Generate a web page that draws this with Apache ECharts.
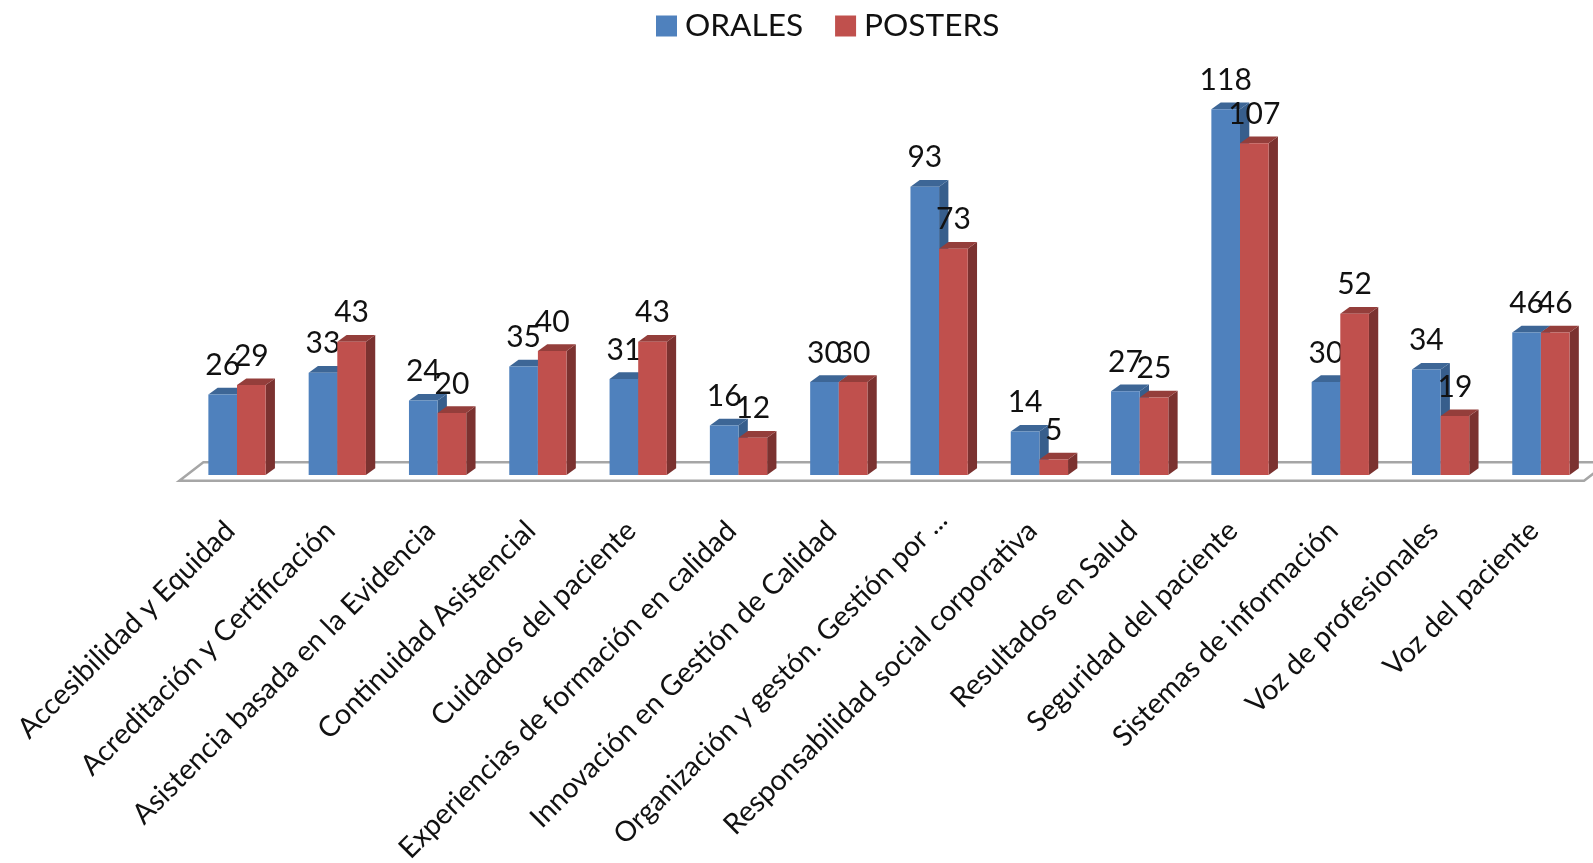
<!DOCTYPE html>
<html><head><meta charset="utf-8">
<style>html,body{margin:0;padding:0;background:#fff}#c{width:1593px;height:863px}</style>
<script src="https://cdn.jsdelivr.net/npm/echarts@6/dist/echarts.min.js"></script>
</head><body><div id="c"></div>
<script>
const categories = ["Accesibilidad y Equidad","Acreditación y Certificación","Asistencia basada en la Evidencia","Continuidad Asistencial","Cuidados del paciente","Experiencias de formación en calidad","Innovación en Gestión de Calidad","Organización y gestón. Gestión por ...","Responsabilidad social corporativa","Resultados en Salud","Seguridad del paciente","Sistemas de información","Voz de profesionales","Voz del paciente"];
const orales = [26,33,24,35,31,16,30,93,14,27,118,30,34,46];
const posters = [29,43,20,40,43,12,30,73,5,25,107,52,19,46];

const FONT = 'Lato, Carlito, Calibri, sans-serif';
const DX = 9.3, DY = 6.7, BAR = 0.2855;

function bar3d(side, front, top, dark) {
  return function (params, api) {
    const i = api.value(0), v = api.value(1);
    const band = api.size([1, 0])[0], w = band * BAR;
    const c = api.coord([i, v]), b = api.coord([i, 0]);
    const x0 = c[0] + (side < 0 ? -w : 0), x1 = x0 + w, yt = c[1], yb = b[1];
    return { type: 'group', children: [
      { type: 'polygon', shape: { points: [[x1, yt], [x1 + DX, yt - DY], [x1 + DX, yb - DY], [x1, yb]] }, style: { fill: dark } },
      { type: 'polygon', shape: { points: [[x0, yt], [x0 + DX, yt - DY], [x1 + DX, yt - DY], [x1, yt]] }, style: { fill: top } },
      { type: 'rect', shape: { x: x0, y: yt, width: w, height: yb - yt }, style: { fill: front } },
      { type: 'text', z2: 50, style: { x: (x0 + x1) / 2, y: yt - 29, text: String(v), fill: '#111', font: '30px ' + FONT, textAlign: 'center', textVerticalAlign: 'middle' } }
    ]};
  };
}

const axisData = categories.map(c => c.endsWith('...')
  ? { value: c, textStyle: { padding: [0, -5, 0, 0], fontSize: 28 } }
  : c);

const chart = echarts.init(document.getElementById('c'));
chart.setOption({
  backgroundColor: '#fff',
  animation: false,
  legend: {
    data: ['ORALES', 'POSTERS'], left: 651, top: 5, itemWidth: 21, itemHeight: 21, itemGap: 32, icon: 'rect',
    textStyle: { fontFamily: FONT, fontSize: 31.6, color: '#111', padding: [0, 0, 0, 3] }
  },
  grid: { left: 186.85, top: 103, width: 1404.2, height: 372, containLabel: false, outerBoundsMode: 'none' },
  xAxis: { type: 'category', data: axisData, axisLine: { show: false }, axisTick: { show: false }, splitLine: { show: false },
    axisLabel: { rotate: 45, interval: 0, margin: 44, padding: [0, 10, 0, 0], fontFamily: FONT, fontSize: 28.6, color: '#111', hideOverlap: false } },
  yAxis: { type: 'value', min: 0, max: 120, show: false, splitLine: { show: false } },
  series: [
    { type: 'custom', name: 'floor', silent: true, z: 1, data: [[0, 0]], encode: { x: 0, y: 1 },
      renderItem(params, api) {
        const s = params.coordSys, y = s.y + s.height, l = s.x, r = s.x + s.width;
        return { type: 'polygon', shape: { points: [[l - 7.5, y + 5.7], [l + 16.5, y - 12.7], [r + 17, y - 12.7], [r - 7, y + 5.7]] },
          style: { fill: '#fff', stroke: '#A6A6A6', lineWidth: 2.5 } };
      } },
    { type: 'custom', name: 'ORALES', z: 2, itemStyle: { color: '#4F81BD' }, data: orales.map((v, i) => [i, v]), encode: { x: 0, y: 1 },
      renderItem: bar3d(-1, '#4F81BD', '#3D6696', '#375E8C') },
    { type: 'custom', name: 'POSTERS', z: 3, itemStyle: { color: '#C0504D' }, data: posters.map((v, i) => [i, v]), encode: { x: 0, y: 1 },
      renderItem: bar3d(1, '#C0504D', '#943E3B', '#7B3230') }
  ]
});
</script></body></html>
